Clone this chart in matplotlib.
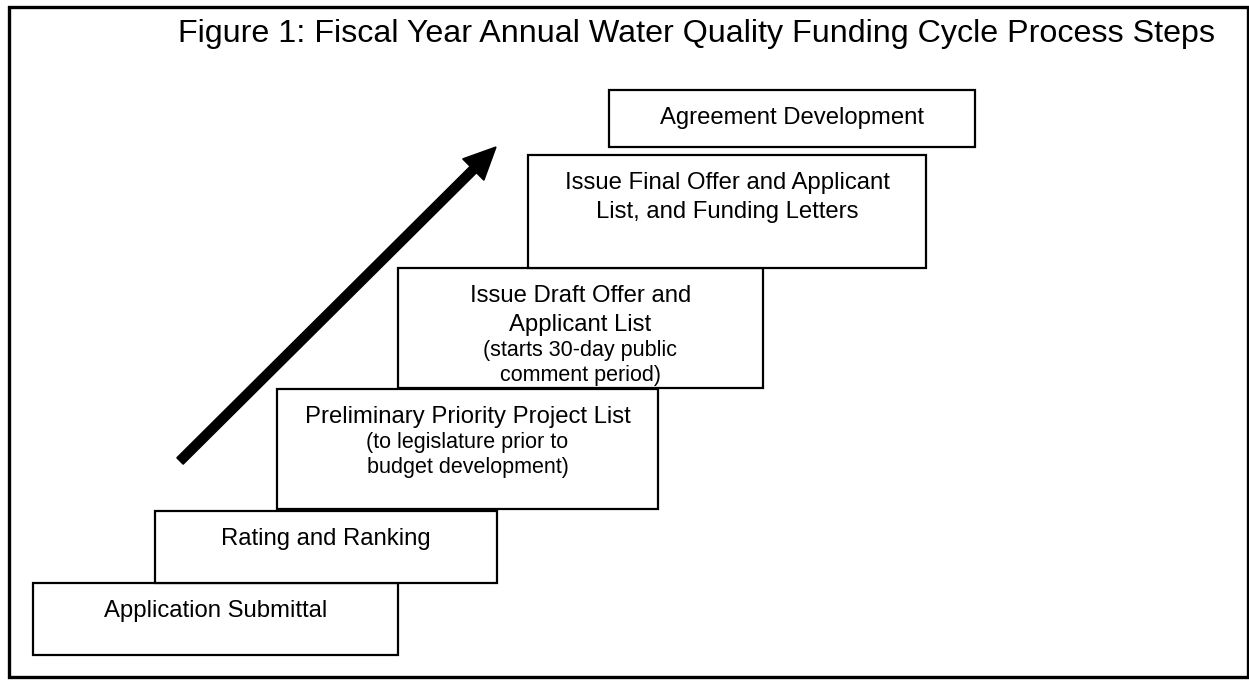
import matplotlib
matplotlib.use("Agg")
import matplotlib.pyplot as plt
from matplotlib.patches import Rectangle, FancyArrow

plt.rcParams['font.family'] = ['Liberation Sans', 'DejaVu Sans']

title = 'Figure 1: Fiscal Year Annual Water Quality Funding Cycle Process Steps'

# process steps, bottom to top
step_main = [
    ['Application Submittal'],
    ['Rating and Ranking'],
    ['Preliminary Priority Project List'],
    ['Issue Draft Offer and', 'Applicant List'],
    ['Issue Final Offer and Applicant', 'List, and Funding Letters'],
    ['Agreement Development'],
]
step_note = [
    [],
    [],
    ['(to legislature prior to', 'budget development)'],
    ['(starts 30-day public', 'comment period)'],
    [],
    [],
]

# box extents in pixels (left, top, right, bottom)
box_left = [33, 155, 277, 398, 528, 609]
box_top = [583, 511, 389, 268, 155, 90]
box_right = [398, 497, 658, 763, 926, 975]
box_bottom = [655, 583, 509, 388, 268, 147]

W, H = 1249, 682
fig = plt.figure(figsize=(W / 100, H / 100), dpi=100)
ax = fig.add_axes([0, 0, 1, 1])
ax.set_xlim(0, W)
ax.set_ylim(H, 0)
ax.axis('off')

# outer frame
ax.add_patch(Rectangle((9, 7), 1239, 670, fill=False, ec='black', lw=2.4))

ax.text(697, 42, title, fontsize=23.2, ha='center', va='baseline')

for i in range(len(step_main)):
    l, t, r, b = box_left[i], box_top[i], box_right[i], box_bottom[i]
    rect = Rectangle((l, t), r - l, b - t, fc='white', ec='black', lw=1.6, zorder=2)
    ax.add_patch(rect)
    # text frame inside the box is a bit shorter than the box itself
    frame = Rectangle((l, t), r - l, b - t - 8, transform=ax.transData)
    cx = (l + r) / 2
    y = t + 34
    for k, line in enumerate(step_main[i]):
        if k > 0:
            y += 29
        ax.text(cx, y, line, fontsize=17.2, ha='center', va='baseline', zorder=3)
    for line in step_note[i]:
        y += 25
        tx = ax.text(cx, y, line, fontsize=15.5, ha='center', va='baseline', zorder=3)
        tx.set_clip_path(frame)

# rising arrow
x0, y0, x1, y1 = 180, 461, 496, 147
ax.add_patch(FancyArrow(x0, y0, x1 - x0, y1 - y0, width=9, head_width=30,
                        head_length=32, length_includes_head=True,
                        fc='black', ec='black', zorder=4))

fig.savefig('out.png', dpi=100, facecolor='white')
